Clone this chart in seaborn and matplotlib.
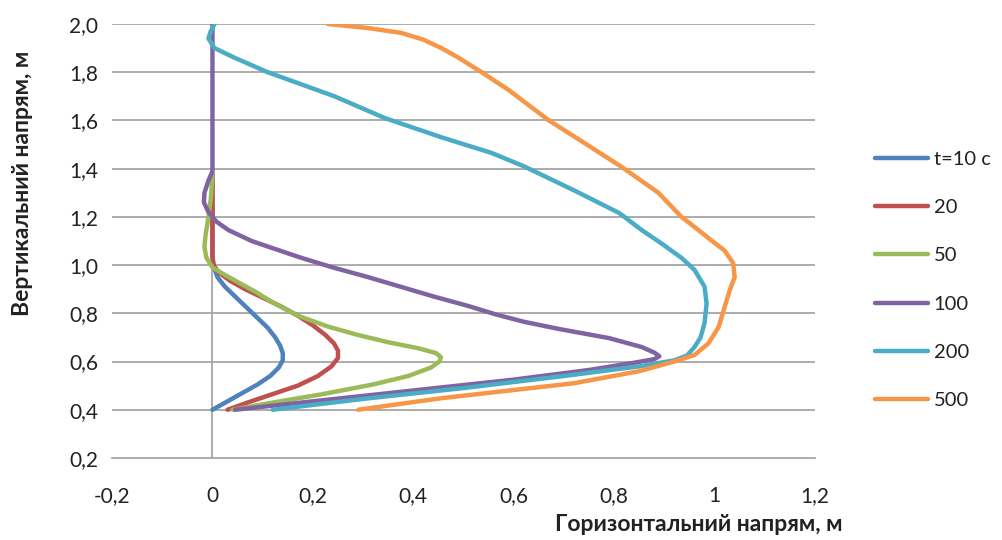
import numpy as np
import pandas as pd
import seaborn as sns
import matplotlib
matplotlib.use("Agg")
import matplotlib.pyplot as plt

# series: (horizontal, vertical) in m
x_10 = [0.0, 0.03, 0.06, 0.09, 0.115, 0.132, 0.14, 0.14, 0.135, 0.125, 0.11, 0.09,
        0.07, 0.045, 0.025, 0.01, 0.003, 0.0, 0.0]
y_10 = [0.40, 0.435, 0.47, 0.505, 0.54, 0.575, 0.605, 0.635, 0.665, 0.70, 0.74, 0.78,
        0.82, 0.87, 0.91, 0.95, 0.99, 1.03, 1.38]

x_20 = [0.03, 0.07, 0.12, 0.17, 0.21, 0.237, 0.25, 0.25, 0.242, 0.225, 0.20, 0.17,
        0.135, 0.10, 0.065, 0.035, 0.012, 0.002, 0.0, 0.0]
y_20 = [0.40, 0.43, 0.465, 0.50, 0.54, 0.58, 0.615, 0.645, 0.675, 0.71, 0.75, 0.79,
        0.83, 0.865, 0.90, 0.935, 0.97, 1.0, 1.04, 1.38]

x_50 = [0.04, 0.12, 0.22, 0.32, 0.39, 0.435, 0.452, 0.455, 0.445, 0.41, 0.35, 0.29,
        0.23, 0.17, 0.12, 0.085, 0.05, 0.02, 0.0, -0.012, -0.016, -0.014, -0.008,
        -0.003, 0.0]
y_50 = [0.40, 0.43, 0.465, 0.505, 0.54, 0.575, 0.60, 0.618, 0.635, 0.655, 0.68, 0.71,
        0.745, 0.79, 0.845, 0.89, 0.93, 0.965, 0.99, 1.03, 1.075, 1.12, 1.2,
        1.28, 1.38]

x_100 = [0.045, 0.2, 0.4, 0.6, 0.75, 0.84, 0.88, 0.89, 0.88, 0.855, 0.79, 0.69,
         0.62, 0.565, 0.51, 0.44, 0.31, 0.24, 0.177, 0.12, 0.078, 0.032, 0.008,
         -0.008, -0.017, -0.016, -0.008, 0.0, 0.0]
y_100 = [0.40, 0.435, 0.48, 0.525, 0.565, 0.595, 0.61, 0.622, 0.637, 0.66, 0.697, 0.735,
         0.765, 0.795, 0.83, 0.87, 0.95, 0.99, 1.03, 1.07, 1.10, 1.145, 1.18,
         1.22, 1.26, 1.30, 1.35, 1.39, 2.0]

x_200 = [0.12, 0.3, 0.5, 0.7, 0.85, 0.92, 0.945, 0.96, 0.972, 0.98, 0.984, 0.98,
         0.96, 0.934, 0.894, 0.855, 0.81, 0.72, 0.62, 0.556, 0.456, 0.343, 0.243,
         0.11, 0.044, 0.004, -0.008, -0.004, 0.004]
y_200 = [0.40, 0.445, 0.49, 0.54, 0.58, 0.605, 0.625, 0.66, 0.70, 0.76, 0.84, 0.91,
         0.98, 1.03, 1.09, 1.145, 1.216, 1.31, 1.41, 1.465, 1.53, 1.61, 1.70,
         1.80, 1.86, 1.90, 1.94, 1.967, 2.0]

x_500 = [0.29, 0.456, 0.72, 0.85, 0.92, 0.96, 0.988, 1.008, 1.02, 1.03, 1.04, 1.037,
         1.02, 0.995, 0.968, 0.934, 0.888, 0.815, 0.741, 0.67, 0.59, 0.536, 0.49,
         0.456, 0.42, 0.376, 0.31, 0.23]
y_500 = [0.40, 0.448, 0.51, 0.56, 0.60, 0.627, 0.676, 0.743, 0.826, 0.895, 0.95, 1.008,
         1.06, 1.10, 1.145, 1.20, 1.30, 1.407, 1.506, 1.60, 1.726, 1.80, 1.86,
         1.90, 1.935, 1.963, 1.983, 2.0]

series_names = ["t=10 с", "20", "50", "100", "200", "500"]
series_x = [x_10, x_20, x_50, x_100, x_200, x_500]
series_y = [y_10, y_20, y_50, y_100, y_200, y_500]
colours = ["#4F81BD", "#C0504D", "#9BBB59", "#8064A2", "#4BACC6", "#F79646"]

xticks = [-0.2, 0, 0.2, 0.4, 0.6, 0.8, 1.0, 1.2]
xtick_labels = ["-0,2", "0", "0,2", "0,4", "0,6", "0,8", "1", "1,2"]
yticks = [0.2, 0.4, 0.6, 0.8, 1.0, 1.2, 1.4, 1.6, 1.8, 2.0]
ytick_labels = ["0,2", "0,4", "0,6", "0,8", "1,0", "1,2", "1,4", "1,6", "1,8", "2,0"]

rows = []
for name, xs, ys in zip(series_names, series_x, series_y):
    for i, (a, b) in enumerate(zip(xs, ys)):
        rows.append({"series": name, "order": i, "x": a, "y": b})
df = pd.DataFrame(rows)

sns.set_style("white")
plt.rcParams["font.family"] = ["Lato", "DejaVu Sans"]

fig = plt.figure(figsize=(10.03, 5.40), dpi=100)
ax = fig.add_axes([0.1117, 0.1519, 0.8126 - 0.1117, 0.9556 - 0.1519])

grid_c = "#A6A6A6"
for yv in yticks[1:]:
    ax.axhline(yv, color=grid_c, lw=1.3, zorder=0)
ax.axvline(0, color=grid_c, lw=1.3, zorder=0)

sns.lineplot(data=df, x="x", y="y", hue="series", hue_order=series_names,
             palette=colours, sort=False, estimator=None, units="series",
             lw=3.2, ax=ax, legend=True)
for ln in ax.lines:
    ln.set_solid_capstyle("round")
    ln.set_solid_joinstyle("round")

ax.set_xlim(-0.2, 1.2)
ax.set_ylim(0.2, 2.0)
ax.set_xticks(xticks)
ax.set_xticklabels(xtick_labels)
ax.set_yticks(yticks)
ax.set_yticklabels(ytick_labels)
ax.set_xlabel("")
ax.set_ylabel("")

for s in ["top", "right", "left"]:
    ax.spines[s].set_visible(False)
ax.spines["bottom"].set_color(grid_c)
ax.spines["bottom"].set_linewidth(1.3)
ax.tick_params(axis="x", direction="out", length=6, width=1.3, color=grid_c,
               labelsize=15, pad=14, labelcolor="#222222")
ax.tick_params(axis="y", length=0, labelsize=15, pad=10, labelcolor="#222222")

leg = ax.legend(loc="center left", bbox_to_anchor=(1.06, 0.41), frameon=False,
                fontsize=14.5, handlelength=2.6, handletextpad=0.3, labelspacing=1.55)
for h in leg.get_lines():
    h.set_linewidth(3.2)
for t in leg.get_texts():
    t.set_color("#222222")

fig.text(0.022, 0.661, "Вертикальний напрям, м", rotation=90, ha="center",
         va="center", fontsize=16.5, fontweight="bold", color="#222222")
fig.text(0.697, 0.028, "Горизонтальний напрям, м", ha="center", va="center",
         fontsize=16.5, fontweight="bold", color="#222222")

fig.savefig("out.png", dpi=100)
